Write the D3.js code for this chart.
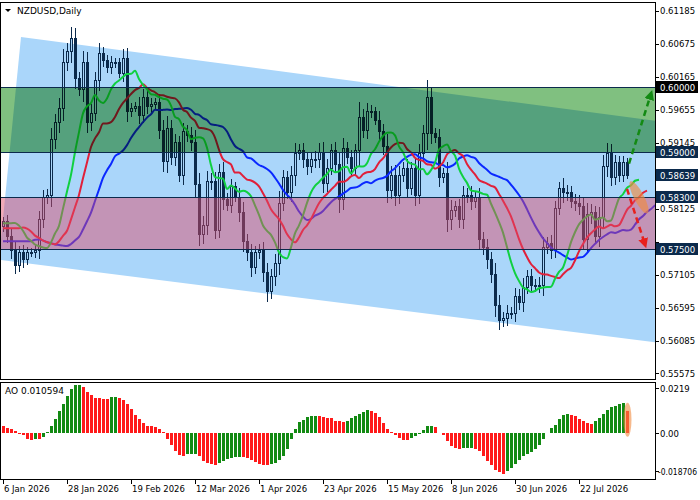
<!DOCTYPE html>
<html>
<head>
<meta charset="utf-8">
<script src="https://cdn.jsdelivr.net/npm/d3@7"></script>
<style>
  body { margin: 0; background: #fff; }
  svg { display: block; font-family: "DejaVu Sans", sans-serif; }
</style>
</head>
<body>
<script>
// Daily closes, NZDUSD, from 6 Jan 2026
const closes = [
  0.5792,0.5769,0.5747,0.5725,0.5744,0.5733,0.5745,0.5744,0.5748,0.5795,
  0.5829,0.5833,0.5919,0.5945,0.5968,0.6039,0.6055,0.6076,0.6014,0.5996,
  0.6038,0.5946,0.5960,0.6011,0.6053,0.6042,0.6030,0.6038,0.6038,0.6022,
  0.6045,0.5962,0.5968,0.5971,0.5957,0.5985,0.5970,0.5973,0.5976,0.5934,
  0.5885,0.5937,0.5892,0.5914,0.5863,0.5931,0.5926,0.5914,0.5849,0.5772,
  0.5787,0.5854,0.5855,0.5779,0.5869,0.5826,0.5818,0.5846,0.5830,0.5806,
  0.5761,0.5744,0.5721,0.5745,0.5747,0.5713,0.5684,0.5707,0.5728,0.5821,
  0.5860,0.5837,0.5864,0.5898,0.5902,0.5888,0.5877,0.5888,0.5889,0.5900,
  0.5852,0.5875,0.5903,0.5880,0.5826,0.5906,0.5891,0.5875,0.5903,0.5954,
  0.5934,0.5962,0.5962,0.5949,0.5931,0.5908,0.5841,0.5864,0.5833,0.5864,
  0.5875,0.5844,0.5875,0.5833,0.5898,0.5929,0.5985,0.5929,0.5922,0.5860,
  0.5867,0.5795,0.5810,0.5815,0.5795,0.5833,0.5833,0.5824,0.5829,0.5764,
  0.5752,0.5733,0.5710,0.5663,0.5640,0.5643,0.5651,0.5651,0.5676,0.5667,
  0.5691,0.5707,0.5694,0.5694,0.5694,0.5753,0.5758,0.5748,0.5813,0.5844,
  0.5837,0.5837,0.5823,0.5821,0.5815,0.5764,0.5803,0.5806,0.5769,0.5799,
  0.5877,0.5898,0.5861,0.5884,0.5864,0.5884,0.5864
];
const firstOpen = 0.5785;
// wick length beyond the body, in pips
const wicks = [
  8,10,12,14,10,12,8,6,8,14, 12,10,18,14,16,20,14,18,16,10,
  18,16,14,12,16,10,8,10,8,8, 14,16,8,6,14,12,12,10,8,14,
  16,18,12,14,10,14,10,12,20,18, 14,16,12,14,12,16,10,12,8,14,
  16,12,14,10,10,14,16,12,14,18, 12,10,14,16,10,12,12,10,12,14,
  16,14,10,12,20,16,10,12,10,24, 12,14,10,8,14,12,20,14,16,14,
  10,14,10,16,14,12,26,16,8,14, 8,18,16,10,12,14,12,14,10,16,
  12,14,12,18,16,10,12,10,14,12, 14,10,12,10,12,16,10,14,12,10,
  16,12,10,12,12,14,18,14,10,16, 18,16,14,12,10,10,6
];
// Awesome Oscillator values
const ao = [
  0.0036,0.0024,0.0019,0.0008,-0.0005,-0.0011,-0.0028,-0.0036,-0.0029,-0.0029,
  -0.0019,0.0005,0.0036,0.0068,0.0109,0.0143,0.0181,0.0214,0.0235,0.0236,
  0.0222,0.0200,0.0185,0.0172,0.0168,0.0167,0.0166,0.0173,0.0175,0.0170,
  0.0159,0.0141,0.0117,0.0089,0.0068,0.0049,0.0036,0.0032,0.0028,0.0019,
  0.0005,-0.0030,-0.0056,-0.0090,-0.0108,-0.0112,-0.0102,-0.0101,-0.0100,-0.0112,
  -0.0135,-0.0148,-0.0152,-0.0155,-0.0148,-0.0137,-0.0127,-0.0120,-0.0116,-0.0115,
  -0.0118,-0.0123,-0.0130,-0.0143,-0.0150,-0.0155,-0.0158,-0.0150,-0.0145,-0.0130,
  -0.0112,-0.0080,-0.0028,0.0019,0.0052,0.0065,0.0078,0.0084,0.0085,0.0081,
  0.0076,0.0075,0.0073,0.0060,0.0057,0.0055,0.0060,0.0072,0.0083,0.0094,
  0.0102,0.0110,0.0105,0.0097,0.0078,0.0049,0.0021,0.0005,-0.0008,-0.0024,
  -0.0032,-0.0033,-0.0024,-0.0013,-0.0005,0.0016,0.0032,0.0036,0.0029,0.0000,
  -0.0011,-0.0040,-0.0061,-0.0073,-0.0076,-0.0074,-0.0073,-0.0072,-0.0076,-0.0089,
  -0.0113,-0.0135,-0.0157,-0.0178,-0.0191,-0.0198,-0.0186,-0.0170,-0.0150,-0.0130,
  -0.0113,-0.0102,-0.0092,-0.0076,-0.0057,-0.0028,0.0000,0.0024,0.0040,0.0069,
  0.0089,0.0094,0.0089,0.0081,0.0070,0.0057,0.0049,0.0044,0.0057,0.0073,
  0.0092,0.0113,0.0125,0.0130,0.0140,0.0145,0.0106
];
const aoLabel = "AO 0.010594";
const dateTicks = [0, 16, 32, 48, 64, 80, 96, 112, 128, 144];
const dateLabels = ["6 Jan 2026","28 Jan 2026","19 Feb 2026","12 Mar 2026","1 Apr 2026",
  "23 Apr 2026","15 May 2026","8 Jun 2026","30 Jun 2026","22 Jul 2026"];
const priceTicks = [0.61185,0.60675,0.60165,0.59655,0.59145,0.58125,0.57615,0.57105,0.56595,0.56085,0.55575];
const levels = [0.60000, 0.59000, 0.58300, 0.57500];
const lastPrice = 0.58639;
const aoTicks = [0.0219, 0, -0.018706];
const aoTickLabels = ["0.0219", "0.00", "-0.018706"];
// Alligator: [period, shift, seed, colour]
const alligator = [
  [13, 8, 0.5762, "#0a28ff"],
  [8, 5, 0.5782, "#e0203a"],
  [5, 3, 0.5790, "#10d040"]
];
// regression channel corners [bar index, price]
const channel = [[4.5,0.6078],[174.25,0.5939],[174.25,0.5597],[-0.75,0.5733],[-0.75,0.5750]];
const buyZone = [0.5900, 0.6000];
const sellZone = [0.5750, 0.5830];
const upArrow = [[156.5,0.5882],[162,0.5990]];
const downArrow = [[156,0.5843],[160.5,0.5757]];

const width = 700, height = 500;
const plotRight = 655;
const mainTop = 2, mainBottom = 379;
const aoTop = 382, aoBottom = 479;

const x = d3.scaleLinear([0, 1], [3, 7]);
const y = d3.scaleLinear([0.575, 0.590], [249, 152]);
const yAo = d3.scaleLinear([0, 0.0219], [433, 388]);

const svg = d3.select("body").append("svg")
  .attr("width", width).attr("height", height)
  .attr("viewBox", [0, 0, width, height]);

const defs = svg.append("defs");
defs.append("clipPath").attr("id", "mainclip").append("rect")
  .attr("x", 1).attr("y", mainTop + 1).attr("width", plotRight - 1).attr("height", mainBottom - mainTop - 1);
defs.append("clipPath").attr("id", "aoclip").append("rect")
  .attr("x", 1).attr("y", aoTop + 1).attr("width", plotRight - 1).attr("height", aoBottom - aoTop - 1);
for (const [id, col] of [["ag", "#138a13"], ["ar", "#e8201c"]]) {
  defs.append("marker").attr("id", id).attr("viewBox", "0 0 10 10")
    .attr("refX", 6).attr("refY", 5).attr("markerWidth", 4).attr("markerHeight", 4)
    .attr("orient", "auto")
    .append("path").attr("d", "M0,0L10,5L0,10z").attr("fill", col);
}

const main = svg.append("g").attr("clip-path", "url(#mainclip)");

// channel
main.append("path")
  .attr("d", d3.line().x(d => x(d[0])).y(d => y(d[1]))(channel) + "Z")
  .attr("fill", "#aad6fa");

// candles
const candles = closes.map((c, i) => {
  const o = i === 0 ? firstOpen : closes[i - 1];
  const w = wicks[i] * 0.0001;
  return { i, o, c, h: Math.max(o, c) + w, l: Math.min(o, c) - w };
});
const cg = main.append("g").attr("stroke", "#0b2a4c").attr("shape-rendering", "crispEdges");
cg.selectAll("line").data(candles).join("line")
  .attr("x1", d => x(d.i) + 0.5).attr("x2", d => x(d.i) + 0.5)
  .attr("y1", d => y(d.h)).attr("y2", d => y(d.l));
cg.selectAll("rect").data(candles).join("rect")
  .attr("x", d => x(d.i) - 0.5).attr("width", 2)
  .attr("y", d => y(Math.max(d.o, d.c)))
  .attr("height", d => Math.max(1, y(Math.min(d.o, d.c)) - y(Math.max(d.o, d.c))))
  .attr("fill", d => d.c >= d.o ? "#aad6fa" : "#0b2a4c");

// alligator lines (smoothed moving averages, shifted forward)
for (const [period, shift, seed, col] of alligator) {
  let v = seed;
  const pts = [];
  for (let k = 0; k < shift; k++) pts.push([k, seed]);
  closes.forEach((c, i) => {
    v = (v * (period - 1) + c) / period;
    pts.push([i + shift, v]);
  });
  main.append("path")
    .attr("d", d3.line().curve(d3.curveMonotoneX).x(d => x(d[0])).y(d => y(d[1]))(pts))
    .attr("fill", "none").attr("stroke", col).attr("stroke-width", 2);
}

// zones on top
main.append("rect").attr("x", 0).attr("width", plotRight)
  .attr("y", y(buyZone[1])).attr("height", y(buyZone[0]) - y(buyZone[1]))
  .attr("fill", "#80c080").style("mix-blend-mode", "multiply");
main.append("rect").attr("x", 0).attr("width", plotRight)
  .attr("y", y(sellZone[1])).attr("height", y(sellZone[0]) - y(sellZone[1]))
  .attr("fill", "#e04a6a").attr("opacity", 0.47);

main.selectAll(".lvl").data(levels).join("line")
  .attr("x1", 0).attr("x2", plotRight)
  .attr("y1", d => Math.round(y(d)) + 0.5).attr("y2", d => Math.round(y(d)) + 0.5)
  .attr("stroke", "#0b2a4c").attr("stroke-width", 1.2);

// forecast arrows
main.append("line")
  .attr("x1", x(upArrow[0][0])).attr("y1", y(upArrow[0][1]))
  .attr("x2", x(upArrow[1][0])).attr("y2", y(upArrow[1][1]))
  .attr("stroke", "#138a13").attr("stroke-width", 2.5).attr("stroke-dasharray", "6,4")
  .attr("marker-end", "url(#ag)");
main.append("line")
  .attr("x1", x(downArrow[0][0])).attr("y1", y(downArrow[0][1]))
  .attr("x2", x(downArrow[1][0])).attr("y2", y(downArrow[1][1]))
  .attr("stroke", "#e8201c").attr("stroke-width", 2.5).attr("stroke-dasharray", "6,4")
  .attr("marker-end", "url(#ar)");
main.append("ellipse")
  .attr("transform", `translate(${x(159)},${y(0.5830)}) rotate(-28)`)
  .attr("rx", 5).attr("ry", 18).attr("fill", "#f08a40").attr("opacity", 0.65);

// AO pane
const aoG = svg.append("g").attr("clip-path", "url(#aoclip)").attr("shape-rendering", "crispEdges");
aoG.selectAll("rect").data(ao).join("rect")
  .attr("x", (d, i) => x(i) - 1).attr("width", 3)
  .attr("y", d => Math.min(yAo(d), yAo(0)))
  .attr("height", d => Math.abs(yAo(d) - yAo(0)))
  .attr("fill", (d, i) => i > 0 && d > ao[i - 1] ? "#138a13" : "#ff1a1a");
svg.append("ellipse")
  .attr("cx", x(ao.length - 1) + 0.5).attr("cy", yAo(0.0065))
  .attr("rx", 4).attr("ry", 17).attr("fill", "#f08a40").attr("opacity", 0.6);

// frames
svg.append("rect").attr("x", 0.5).attr("y", mainTop + 0.5)
  .attr("width", plotRight).attr("height", mainBottom - mainTop)
  .attr("fill", "none").attr("stroke", "#000");
svg.append("rect").attr("x", 0.5).attr("y", aoTop + 0.5)
  .attr("width", plotRight).attr("height", aoBottom - aoTop)
  .attr("fill", "none").attr("stroke", "#000");

// price axis
const pa = svg.append("g").attr("font-size", 8.5).attr("fill", "#000");
pa.selectAll("line").data(priceTicks).join("line")
  .attr("x1", plotRight + 0.5).attr("x2", plotRight + 4)
  .attr("y1", d => Math.round(y(d)) + 0.5).attr("y2", d => Math.round(y(d)) + 0.5)
  .attr("stroke", "#000");
pa.selectAll("text").data(priceTicks.filter(d => Math.abs(y(d) - y(0.575)) > 8))
  .join("text")
  .attr("x", plotRight + 5).attr("y", d => y(d) + 3.5)
  .text(d => d.toFixed(5));

const boxes = levels.map((v, i) => ({ v, bg: i === 0 ? "#000" : "#0b2a4c" }))
  .concat([{ v: lastPrice, bg: "#0b2a4c" }]);
const bx = svg.append("g").selectAll("g").data(boxes).join("g")
  .attr("transform", d => `translate(${plotRight + 1},${Math.round(y(d.v))})`);
bx.append("rect").attr("x", 0).attr("y", -6).attr("width", 42).attr("height", 12).attr("fill", d => d.bg);
bx.append("text").attr("x", 4).attr("y", 3.5).attr("font-size", 8.5).attr("fill", "#fff")
  .text(d => d.v.toFixed(5));

// AO axis
const aa = svg.append("g").attr("font-size", 8.5);
aa.selectAll("line").data(aoTicks).join("line")
  .attr("x1", plotRight + 0.5).attr("x2", plotRight + 4)
  .attr("y1", d => Math.round(yAo(d)) + 0.5).attr("y2", d => Math.round(yAo(d)) + 0.5)
  .attr("stroke", "#000");
aa.selectAll("text").data(aoTicks).join("text")
  .attr("x", (d, i) => plotRight + (i === 2 ? 3 : 5)).attr("y", d => yAo(d) + 3.5)
  .attr("textLength", (d, i) => i === 2 ? 39 : null)
  .attr("lengthAdjust", "spacingAndGlyphs")
  .text((d, i) => aoTickLabels[i]);

// date axis
const da = svg.append("g").attr("font-size", 8.5);
da.selectAll("line").data(dateTicks).join("line")
  .attr("x1", d => x(d) + 0.5).attr("x2", d => x(d) + 0.5)
  .attr("y1", aoBottom + 1).attr("y2", aoBottom + 5).attr("stroke", "#000");
da.selectAll("text").data(dateTicks).join("text")
  .attr("x", d => x(d) + 1).attr("y", 492)
  .text((d, i) => dateLabels[i]);

// titles
svg.append("path").attr("d", "M5,9L11,9L8,12Z").attr("fill", "#000");
svg.append("text").attr("x", 17).attr("y", 14).attr("font-size", 9).text("NZDUSD,Daily");
svg.append("text").attr("x", 5).attr("y", 394).attr("font-size", 9).text(aoLabel);
</script>
</body>
</html>
